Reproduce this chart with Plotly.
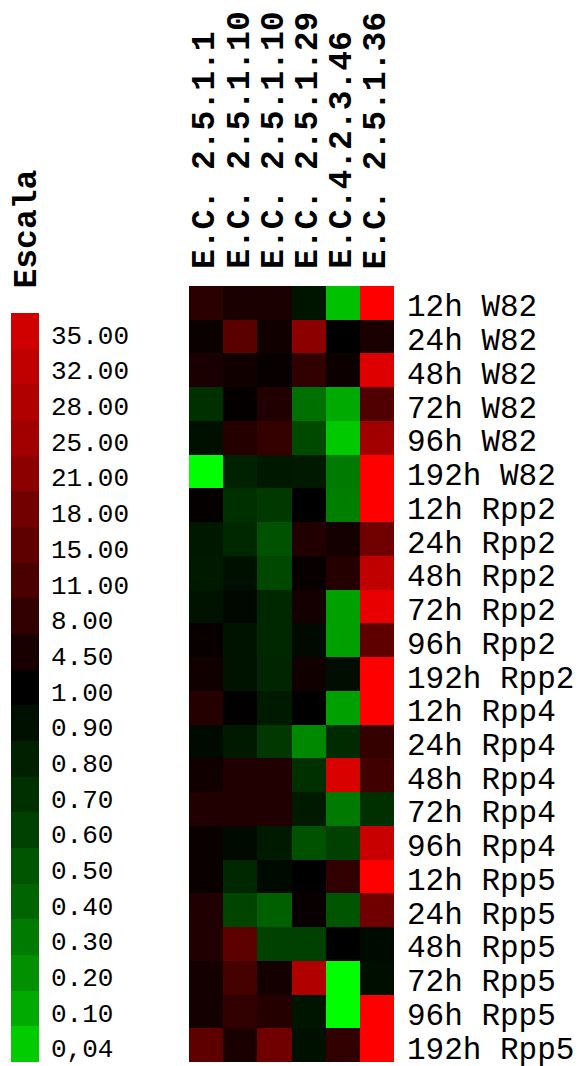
import numpy as np
import plotly.graph_objects as go

# ---------------- data ----------------
columns = ["E.C. 2.5.1.1", "E.C. 2.5.1.10", "E.C. 2.5.1.10",
           "E.C. 2.5.1.29", "E.C.4.2.3.46", "E.C. 2.5.1.36"]

rows = ["12h W82", "24h W82", "48h W82", "72h W82", "96h W82", "192h W82",
        "12h Rpp2", "24h Rpp2", "48h Rpp2", "72h Rpp2", "96h Rpp2", "192h Rpp2",
        "12h Rpp4", "24h Rpp4", "48h Rpp4", "72h Rpp4", "96h Rpp4",
        "12h Rpp5", "24h Rpp5", "48h Rpp5", "72h Rpp5", "96h Rpp5", "192h Rpp5"]

ec_2_5_1_1 = [7, 2.5, 4.8, 0.7, 0.9, 0.01, 1.7, 0.85, 0.84, 0.89, 2.2, 3.3,
              6.3, 0.94, 3.3, 5.6, 2.5, 2.5, 5.6, 5.6, 4, 4, 15]
ec_2_5_1_10a = [4.8, 14, 3.3, 1.7, 6.3, 0.79, 0.7, 0.75, 0.9, 0.95, 0.89, 0.89,
                1.3, 0.84, 5.6, 5.6, 0.94, 0.75, 0.58, 15, 10.3, 7.8, 4.8]
ec_2_5_1_10b = [4.8, 3.3, 2.2, 5.6, 8.3, 0.85, 0.65, 0.52, 0.56, 0.75, 0.75, 0.77,
                0.84, 0.65, 5.6, 5.6, 0.84, 0.94, 0.43, 0.6, 4, 6.3, 17.5]
ec_2_5_1_29 = [0.87, 21, 7.8, 0.35, 0.55, 0.84, 1, 5.6, 2.2, 4, 0.94, 3.3,
               1, 0.23, 0.7, 0.84, 0.52, 1, 2.2, 0.6, 28, 0.87, 0.9]
ec_4_2_3_46 = [0.06, 1, 2.8, 0.1, 0.045, 0.3, 0.28, 4, 6.3, 0.14, 0.14, 0.92,
               0.14, 0.74, 36, 0.3, 0.6, 7.8, 0.5, 1, 0.01, 0.01, 7.8]
ec_2_5_1_36 = [40, 4.8, 36.5, 12, 25, 40, 40, 17.5, 32, 37.5, 15, 40,
               40, 8.3, 9.7, 0.7, 33.5, 40, 17.5, 0.94, 0.91, 40, 40]

scale_labels = ["35.00", "32.00", "28.00", "25.00", "21.00", "18.00", "15.00",
                "11.00", "8.00", "4.50", "1.00", "0.90", "0.80", "0.70", "0.60",
                "0.50", "0.40", "0.30", "0.20", "0.10", "0,04"]
scale_values = [35, 32, 28, 25, 21, 18, 15, 11, 8, 4.5, 1.0, 0.9, 0.8, 0.7, 0.6,
                0.5, 0.4, 0.3, 0.2, 0.1, 0.04]

# colour intensity mapping (ratio -> signed intensity: red +, green -)
red_vals = [1, 4.5, 8, 11, 15, 18, 21, 25, 28, 32, 35, 40]
red_int = [0, 24, 50, 75, 95, 115, 140, 160, 176, 192, 208, 255]
green_vals = [0.01, 0.04, 0.1, 0.2, 0.3, 0.4, 0.5, 0.6, 0.7, 0.8, 0.9, 1.0]
green_int = [-255, -204, -170, -144, -122, -101, -85, -64, -48, -32, -16, 0]


def to_intensity(v):
    v = np.asarray(v, dtype=float)
    return np.where(v >= 1, np.interp(v, red_vals, red_int),
                    np.interp(v, green_vals, green_int))


matrix = np.array([ec_2_5_1_1, ec_2_5_1_10a, ec_2_5_1_10b,
                   ec_2_5_1_29, ec_4_2_3_46, ec_2_5_1_36]).T
z_main = to_intensity(matrix)
z_scale = to_intensity(scale_values).reshape(-1, 1)

W, H = 587, 1066
colorscale = [[0, "#00FF00"], [0.5, "#000000"], [1, "#FF0000"]]


def px_x(p):
    return p / W


def px_y(p):
    return 1 - p / H


fig = go.Figure()
xi = list(range(len(columns)))
yi = list(range(len(rows)))
fig.add_trace(go.Heatmap(z=z_main, x=xi, y=yi, colorscale=colorscale,
                         zmin=-255, zmax=255, showscale=False,
                         customdata=matrix, hovertemplate="%{customdata}<extra></extra>",
                         xaxis="x", yaxis="y"))
fig.add_trace(go.Heatmap(z=z_scale, x=[0], y=list(range(len(scale_values))),
                         colorscale=colorscale, zmin=-255, zmax=255,
                         showscale=False, xaxis="x2", yaxis="y2",
                         hoverinfo="skip"))

ax = dict(showgrid=False, zeroline=False, showticklabels=False, ticks="",
          showline=False)
fig.update_layout(
    width=W, height=H, margin=dict(l=0, r=0, t=0, b=0),
    paper_bgcolor="white", plot_bgcolor="white",
    xaxis=dict(domain=[px_x(189), px_x(394)], range=[-0.5, 5.5], **ax),
    yaxis=dict(domain=[px_y(1062), px_y(286)], range=[22.5, -0.5], **ax),
    xaxis2=dict(domain=[px_x(11), px_x(39)], range=[-0.5, 0.5], anchor="y2", **ax),
    yaxis2=dict(domain=[px_y(1062), px_y(313)], range=[20.5, -0.5], anchor="x2", **ax),
)

mono = "Liberation Mono"
ann = []
for i, c in enumerate(columns):
    ann.append(dict(x=i, xref="x", y=px_y(271), yref="paper", text=c,
                    textangle=-90, xanchor="center", yanchor="bottom",
                    showarrow=False,
                    font=dict(family=mono, size=33, color="black", weight="bold")))
for j, r in enumerate(rows):
    ann.append(dict(x=px_x(405), xref="paper", y=j, yref="y", text=r,
                    xanchor="left", yanchor="middle", showarrow=False, yshift=-5,
                    font=dict(family=mono, size=31, color="black")))
for k, lab in enumerate(scale_labels):
    ann.append(dict(x=px_x(49), xref="paper", y=k, yref="y2", text=lab,
                    xanchor="left", yanchor="middle", showarrow=False, yshift=-6,
                    font=dict(family=mono, size=26, color="black")))
ann.append(dict(x=px_x(27), xref="paper", y=px_y(291), yref="paper", text="Escala",
                textangle=-90, xanchor="center", yanchor="bottom", showarrow=False,
                font=dict(family=mono, size=33, color="black", weight="bold")))
fig.update_layout(annotations=ann)

fig.write_html("out.html", config={"displayModeBar": False},
               post_script="document.body.style.margin='0';"
                           "document.body.style.overflow='hidden';")
